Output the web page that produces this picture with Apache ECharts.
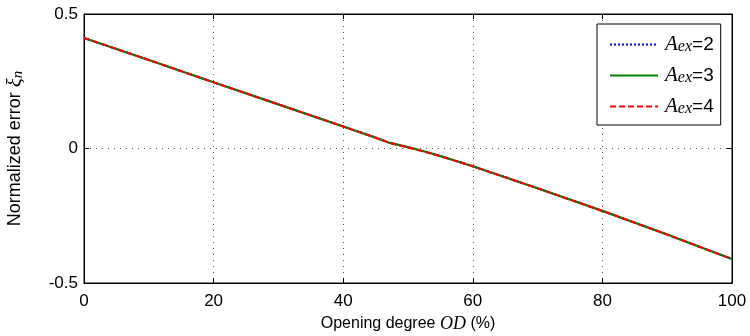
<!DOCTYPE html>
<html><head><meta charset="utf-8">
<script src="https://cdn.jsdelivr.net/npm/echarts@6/dist/echarts.min.js"></script>
<style>html,body{margin:0;padding:0;background:#fff}#c{width:750px;height:336px}</style>
</head><body><div id="c"></div>
<script>
const xValues = [0, 10, 20, 30, 40, 45, 47, 50, 53, 55, 60, 70, 80, 90, 100];
const aex2 = [0.411, 0.329, 0.246, 0.164, 0.082, 0.041, 0.023, 0.005, -0.014, -0.028, -0.066, -0.148, -0.232, -0.320, -0.411];
const aex3 = [0.411, 0.329, 0.246, 0.164, 0.082, 0.040, 0.022, 0.005, -0.014, -0.028, -0.066, -0.148, -0.232, -0.320, -0.411];
const aex4 = [0.411, 0.329, 0.246, 0.164, 0.082, 0.040, 0.022, 0.004, -0.015, -0.029, -0.066, -0.148, -0.232, -0.320, -0.411];
const seriesNames = ['Aex=2', 'Aex=3', 'Aex=4'];
const xTicks = [0, 20, 40, 60, 80, 100];
const yTicks = [-0.5, 0, 0.5];

const zip = (xs, ys) => xs.map((x, i) => [x, ys[i]]);
const F = 'Liberation Sans, Arial, sans-serif';
const S = 'Liberation Serif, Times New Roman, serif';
const chart = echarts.init(document.getElementById('c'));
const lbl = {color: '#000', fontFamily: F, fontSize: 17};
chart.setOption({
  animation: false,
  backgroundColor: '#fff',
  grid: {left: 84, top: 14, right: 18, bottom: 53, containLabel: false, outerBoundsMode: 'none', show: true, borderColor: '#000', borderWidth: 1, backgroundColor: 'transparent'},
  xAxis: [{
    type: 'value', min: 0, max: 100, interval: 20,
    axisLine: {show: true, onZero: false, lineStyle: {color: '#000'}},
    axisTick: {inside: true, length: 5, lineStyle: {color: '#000'}},
    axisLabel: Object.assign({margin: 10, formatter: v => xTicks.includes(v) ? String(v) : ''}, lbl),
    splitLine: {show: true, lineStyle: {color: '#555', type: [1, 5], width: 1}},
    name: '{t|Opening degree }{i|OD}{t| (%)}', nameLocation: 'middle', nameGap: 31,
    nameTextStyle: {rich: {t: {fontFamily: F, fontSize: 16, color: '#000'}, i: {fontFamily: S, fontStyle: 'italic', fontSize: 18, color: '#000'}}}
  }, {
    type: 'value', min: 0, max: 100, interval: 20, position: 'top',
    axisLine: {show: true, onZero: false, lineStyle: {color: '#000'}},
    axisTick: {inside: true, length: 5, lineStyle: {color: '#000'}},
    axisLabel: {show: false}, splitLine: {show: false}
  }],
  yAxis: [{
    type: 'value', min: -0.5, max: 0.5, interval: 0.5,
    axisLine: {show: true, onZero: false, lineStyle: {color: '#000'}},
    axisTick: {inside: true, length: 5, lineStyle: {color: '#000'}},
    axisLabel: Object.assign({margin: 6, formatter: v => yTicks.includes(v) ? String(v) : ''}, lbl),
    splitLine: {show: true, lineStyle: {color: '#555', type: [1, 5], width: 1}},
    name: '{t|Normalized error }{i|ξ}{s|n}', nameLocation: 'middle', nameGap: 58, nameRotate: 90,
    nameTextStyle: {rich: {t: {fontFamily: F, fontSize: 18, color: '#000'}, i: {fontFamily: S, fontStyle: 'italic', fontSize: 21, color: '#000'}, s: {fontFamily: S, fontStyle: 'italic', fontSize: 15, color: '#000', verticalAlign: 'bottom'}}}
  }, {
    type: 'value', min: -0.5, max: 0.5, interval: 0.5, position: 'right',
    axisLine: {show: true, onZero: false, lineStyle: {color: '#000'}},
    axisTick: {inside: true, length: 5, lineStyle: {color: '#000'}},
    axisLabel: {show: false}, splitLine: {show: false}
  }],
  legend: {
    orient: 'vertical', left: 597, top: 24,
    padding: [10, 7, 8, 12], itemGap: 10, itemWidth: 48, itemHeight: 22,
    backgroundColor: '#fff', borderColor: '#000', borderWidth: 1,
    itemStyle: {opacity: 0},
    data: seriesNames,
    formatter: n => '{a|A}{s|ex}{t|=' + n.slice(4) + '}',
    textStyle: {padding: [0, 0, 0, 2], rich: {
      a: {fontFamily: S, fontStyle: 'italic', fontSize: 21, color: '#000'},
      s: {fontFamily: S, fontStyle: 'italic', fontSize: 16, color: '#000', verticalAlign: 'bottom'},
      t: {fontFamily: F, fontSize: 19, color: '#000'}
    }}
  },
  series: [
    {name: seriesNames[0], type: 'line', data: zip(xValues, aex2), symbol: 'none', lineStyle: {color: '#0000ff', width: 2, type: [2, 2]}, itemStyle: {color: '#0000ff'}},
    {name: seriesNames[1], type: 'line', data: zip(xValues, aex3), symbol: 'none', lineStyle: {color: '#008000', width: 2.2, type: 'solid'}, itemStyle: {color: '#008000'}},
    {name: seriesNames[2], type: 'line', data: zip(xValues, aex4), symbol: 'none', lineStyle: {color: '#ff0000', width: 2, type: [6, 3]}, itemStyle: {color: '#ff0000'}}
  ]
});
</script></body></html>
